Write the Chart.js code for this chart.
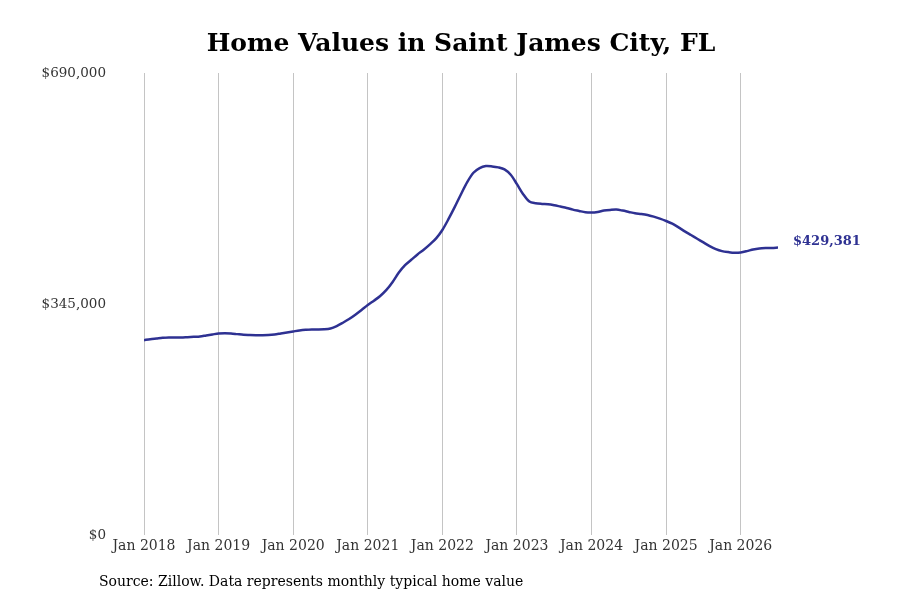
<!DOCTYPE html>
<html>
<head>
<meta charset="utf-8">
<script src="https://cdn.jsdelivr.net/npm/chart.js@4/dist/chart.umd.min.js"></script>
<style>
  html, body { margin: 0; padding: 0; background: #fff; }
  #wrap { width: 900px; height: 600px; position: relative; }
</style>
</head>
<body>
<div id="wrap"><canvas id="homeChart" width="900" height="600"></canvas></div>
<script>
// monthly typical home value, Jan 2018 .. Jul 2026
const startYear = 2018;
const homeValues = [
  291000, 292500, 293500, 294500, 295000, 295000, 295000, 295500, 296000, 296500, 298000, 299500,
  301000, 301500, 301000, 300000, 299000, 298700, 298500, 298500, 298700, 299500, 301000, 302500,
  304000, 305500, 306500, 307000, 307000, 307300, 308500, 312000, 317000, 322500, 329000, 336000,
  343500, 350000, 357000, 366000, 378000, 392000, 403000, 411000, 419000, 426000, 434000, 443000,
  455500, 472000, 490000, 509000, 527000, 541000, 548000, 551000, 550500, 549000, 546000, 538000,
  524000, 509000, 498000, 495500, 494500, 494000, 492500, 490500, 488500, 486000, 484000, 482000,
  481500, 482500, 484500, 485500, 486000, 484500, 482500, 480500, 479500, 478000, 475500, 472500,
  469000, 465000, 459500, 453500, 448000, 442500, 437000, 431500, 427000, 424000, 422500, 421500,
  422000, 424000, 426500, 428000, 428600, 428800, 429381
];
const xTickLabels = ['Jan 2018', 'Jan 2019', 'Jan 2020', 'Jan 2021', 'Jan 2022', 'Jan 2023', 'Jan 2024', 'Jan 2025', 'Jan 2026'];
const yTickValues = [0, 345000, 690000];

const lineColor = '#2e3192';
const serif = "'DejaVu Serif', serif";

const fmtMoney = v => '$' + Math.round(v).toLocaleString('en-US');

// title, source note and the last-value label
const extras = {
  id: 'extras',
  afterDraw(chart) {
    const ctx = chart.ctx;
    ctx.save();
    ctx.fillStyle = '#000';
    ctx.font = "bold 25px " + serif;
    ctx.textAlign = 'center';
    ctx.textBaseline = 'middle';
    ctx.fillText('Home Values in Saint James City, FL', 461, 44);

    ctx.font = "14px " + serif;
    ctx.textAlign = 'left';
    ctx.fillText('Source: Zillow. Data represents monthly typical home value', 99, 582);

    const meta = chart.getDatasetMeta(0);
    const last = meta.data[meta.data.length - 1];
    ctx.fillStyle = lineColor;
    ctx.font = "bold 13px " + serif;
    ctx.fillText(fmtMoney(homeValues[homeValues.length - 1]), last.x + 15, last.y - 6);
    ctx.restore();
  }
};

new Chart(document.getElementById('homeChart').getContext('2d'), {
  type: 'line',
  data: {
    datasets: [{
      data: homeValues.map((v, i) => ({ x: i, y: v })),
      borderColor: lineColor,
      borderWidth: 2.5,
      pointRadius: 0,
      tension: 0.3,
      fill: false
    }]
  },
  options: {
    responsive: false,
    animation: false,
    layout: { padding: { top: 73, right: 122, left: 0, bottom: 0 } },
    plugins: { legend: { display: false }, tooltip: { enabled: false } },
    scales: {
      x: {
        type: 'linear',
        min: 0,
        max: homeValues.length - 1,
        afterBuildTicks: s => { s.ticks = xTickLabels.map((_, i) => ({ value: i * 12 })); },
        afterFit: s => { s.height = 65; },
        grid: { color: '#c4c4c4', lineWidth: 1, drawTicks: false },
        border: { display: false },
        ticks: {
          padding: 3,
          color: '#333',
          font: { family: serif, size: 14 },
          maxRotation: 0,
          callback: v => xTickLabels[v / 12]
        }
      },
      y: {
        min: 0,
        max: 690000,
        afterBuildTicks: s => { s.ticks = yTickValues.map(v => ({ value: v })); },
        afterFit: s => { s.width = 144; },
        grid: { display: false, drawTicks: false },
        border: { display: false },
        ticks: {
          padding: 38,
          color: '#333',
          font: { family: serif, size: 13.5 },
          callback: v => fmtMoney(v)
        }
      }
    }
  },
  plugins: [extras]
});
</script>
</body>
</html>
